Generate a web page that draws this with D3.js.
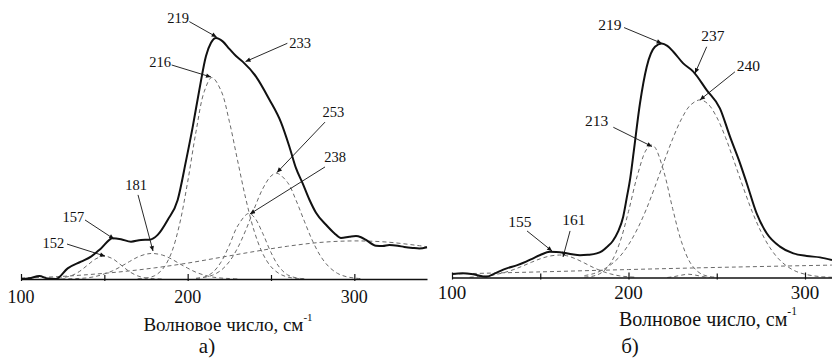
<!DOCTYPE html>
<html><head><meta charset="utf-8">
<script src="https://cdn.jsdelivr.net/npm/d3@7"></script>
<style>
body{margin:0;background:#fff}
svg{display:block}
</style>
</head><body>
<svg id="chart" width="832" height="358" font-family="'Liberation Serif', 'DejaVu Serif', 'Times New Roman', serif"></svg>
<script>
// ---------------- DATA ----------------
const majorTicks = [100, 200, 300];
const minorTicks = [150, 250];
const axisTitle = "Волновое число, см";
const axisTitleSup = "-1";
const panelLabels = ["а)", "б)"];

// Panel a) — measured spectrum [wavenumber, intensity]
const aMeasured = [[100,0],[105,0.3],[111,1.2],[116,0.2],[121,0],[128,4.4],[136,7.2],[142,9.3],[148,12.7],[155,16.9],[160,16.5],[166,15.5],[172,16.2],[177,16.3],[182,18.3],[188,24.5],[194,32.8],[199,49],[203,63],[207,78.5],[211,92.5],[214,98],[217,100],[221,98.6],[225,95.5],[229,92.5],[233,90.2],[241,84],[249,74.5],[256,65],[261,55],[265,46],[269,39.7],[273,33],[277,27.5],[283,22.5],[288,19],[292,17],[297,17.5],[301,17.8],[304,17.3],[307,16.2],[313,13.8],[317,13.7],[321,14.1],[326,13.8],[330,13.3],[335,12.9],[339,12.7],[343.6,13.2]];
// Panel a) — fitted components
const aBand152 = [[118,0],[122,0.2],[126,0.7],[130,1.3],[135,3.1],[140,5.8],[145,8.4],[150,9.5],[155,8.4],[160,5.8],[165,3.1],[170,1.3],[175,0.4],[180,0.1],[185,0]];
const aBand181 = [[120,0],[125,0.05],[130,0.1],[135,0.24],[140,0.5],[145,1.1],[150,2.1],[155,3.4],[160,5.2],[165,7.2],[170,9.1],[175,10.3],[179,10.6],[185,9.9],[190,8.4],[195,6.4],[200,4.5],[205,2.8],[210,1.6],[215,0.8],[220,0.4],[225,0.2],[230,0.05]];
const aBand216 = [[170,0.1],[175,0.4],[180,1.3],[185,4.1],[190,10.4],[195,22.3],[200,40.3],[205,61.1],[210,77.9],[214.5,83.6],[220,78.2],[225,65.4],[230,49],[235,32.9],[240,19.7],[245,10.6],[250,5.1],[255,2.2],[260,0.8],[265,0.3],[270,0.05]];
const aBand238 = [[205,0.2],[210,0.8],[215,2.7],[220,7],[225,14],[230,22],[236.5,27.2],[240,25.6],[245,19],[250,11],[255,4.9],[260,1.7],[265,0.5],[270,0.1]];
const aBand253 = [[205,0.3],[210,0.7],[215,1.6],[220,3.6],[225,7.2],[230,12.9],[235,20.5],[240,29.3],[245,37.4],[250,42.7],[253.5,43.9],[260,40],[265,32.7],[270,24],[275,15.7],[280,9.2],[285,4.9],[290,2.3],[295,1],[300,0.4],[305,0.1]];
const aBroad = [[100,0.4],[120,0.9],[140,1.8],[160,3],[180,4.6],[200,6.6],[220,9],[240,11.4],[260,13.6],[280,15.2],[300,15.8],[320,15.3],[343.6,13.4]];
// Panel a) annotations: text, label pos (w,v), arrow start (w,v), arrow tip (w,v)
const aNotes = [
  ["219",194.2,108.3,201,106.8,217.4,100.4],
  ["233",267.4,98.1,259.8,97.8,234.7,90.2],
  ["216",183.4,90.2,190.4,88.8,214,83.8],
  ["253",287.4,69.4,282.4,65.1,253.6,44.2],
  ["238",288.4,50.7,282.4,46.5,237.4,27],
  ["181",169,39,170.2,34.9,179.2,11.6],
  ["157",131.4,25.9,138.4,24.5,155.8,16.6],
  ["152",119.4,15.1,127.6,14.5,150.4,9.5]
];

// Panel б) — measured spectrum
const bMeasured = [[100,1.5],[106,1.8],[112,1.4],[119.5,0.3],[125,2],[131,3.9],[137,5.3],[142,6.8],[146,8.2],[150,9.6],[155.5,11],[159,10.9],[163,10.6],[168,9.9],[172.5,9.5],[177,9.7],[182,10.3],[185,11.3],[188,13.2],[191,15.5],[194,19.5],[197,26],[199,34],[201,42.5],[203,54],[206.5,74.4],[210.3,90],[215,98.6],[218.8,100],[222,99],[225.4,96.5],[231,91.5],[236.7,88],[244.3,80.1],[251.8,72.3],[257.5,60.2],[263.2,48.8],[267,40.3],[272.6,27.4],[278.3,18.9],[285.8,13.2],[293.4,10.3],[301,9.2],[308.5,8.6],[315.3,7.5]];
// Panel б) — fitted components
const bBand161 = [[110,0.1],[115,0.4],[120,0.7],[125,1.3],[130,2.2],[135,3.4],[140,4.9],[145,6.5],[150,8],[155,9.1],[161,9.6],[165,9.3],[170,8],[175,6.2],[180,4.3],[185,2.7],[190,1.5],[195,0.7],[200,0.3],[205,0.1]];
const bBand213 = [[175,0.2],[180,0.6],[185,2.2],[190,6.3],[195,14.8],[200,28.2],[205,43.5],[210,54.5],[213,56.6],[215,55.6],[220,45.3],[225,29.5],[230,15.3],[235,6.3],[240,2.1],[245,0.5],[250,0.1]];
const bBand240 = [[175,0.8],[180,1.6],[185,3.1],[190,5.5],[195,8.9],[200,14],[205,20.7],[210,29],[215,38.8],[220,49.2],[225,59.2],[230,67.7],[235,73.6],[240.5,75.9],[245,74.2],[250,68.5],[255,59.8],[260,49.3],[265,38.5],[270,28.3],[275,19.7],[280,12.9],[285,8],[290,4.7],[295,2.6],[300,1.4],[305,0.7],[310,0.3],[315.3,0.1]];
const bBandSmall = [[222,0],[226,0.4],[230,1],[234,1.4],[238,1],[242,0.4],[246,0]];
const bBroad = [[100,1.5],[150,2.4],[200,3.4],[250,4.3],[315.3,5.3]];
const bNotes = [
  ["219",189.5,107.9,197.5,106.8,218.8,100.1],
  ["237",247.8,103.3,244.3,98.6,237.7,87.3],
  ["240",267.9,90.5,260.3,87.9,240.5,75.9],
  ["213",182,66.9,191.4,64.2,213.3,56],
  ["155",138.5,23.8,142.5,19.9,156.7,11.3],
  ["161",169.1,24.6,166.9,19.9,162.9,8.8]
];

// ---------------- DRAW ----------------
const svg = d3.select("#chart");
svg.append("rect").attr("width",832).attr("height",358).attr("fill","#fff");

const defs = svg.append("defs");
defs.append("marker").attr("id","arr").attr("viewBox","0 0 10 10")
  .attr("refX",10).attr("refY",5).attr("markerWidth",7).attr("markerHeight",5)
  .attr("markerUnits","userSpaceOnUse").attr("orient","auto")
  .append("path").attr("d","M0,0.5 L10,5 L0,9.5 z").attr("fill","#111");

function panel(cfg){
  const x = d3.scaleLinear().domain(cfg.xDomain).range(cfg.xRange);
  const y = d3.scaleLinear().domain([0,100]).range(cfg.yRange);
  const g = svg.append("g");
  const line = d3.line().x(d=>x(d[0])).y(d=>y(d[1])).curve(d3.curveMonotoneX);
  const dline = d3.line().x(d=>x(d[0])).y(d=>y(d[1])).curve(d3.curveCatmullRom.alpha(0.5));

  cfg.bands.forEach(b=>{
    g.append("path").attr("d",dline(b)).attr("fill","none")
     .attr("stroke","#6a6a6a").attr("stroke-width",1).attr("stroke-dasharray","4,3");
  });
  g.append("path").attr("d",line(cfg.measured)).attr("fill","none")
   .attr("stroke","#111").attr("stroke-width",2).attr("stroke-linejoin","round");

  // axis
  const ax = g.append("g").attr("transform",`translate(0,${cfg.yRange[0]})`);
  ax.call(d3.axisBottom(x).tickValues(majorTicks).tickSizeInner(-5).tickSizeOuter(0).tickFormat(""));
  ax.select(".domain").attr("stroke","#111").attr("stroke-width",1.6);
  ax.selectAll(".tick line").attr("stroke","#111").attr("stroke-width",1.2).attr("y2",-5).attr("y1",2);
  const mx = g.append("g").attr("transform",`translate(0,${cfg.yRange[0]})`);
  mx.call(d3.axisBottom(x).tickValues(minorTicks).tickSizeInner(-3).tickSizeOuter(0).tickFormat(""));
  mx.select(".domain").remove();
  mx.selectAll(".tick line").attr("stroke","#111").attr("stroke-width",1.2).attr("y2",-4).attr("y1",2);

  const ff = "'Liberation Serif', 'DejaVu Serif', serif";
  g.selectAll("text.tl").data(majorTicks).enter().append("text").attr("class","tl")
   .attr("x",d=>x(d)).attr("y",cfg.yRange[0]+cfg.tickDy).attr("text-anchor","middle")
   .attr("font-family",ff).attr("fill","#111")
   .attr("font-size",cfg.tickFs).text(d=>d);

  const t = g.append("text").attr("x",cfg.titleX).attr("y",cfg.titleY)
   .attr("font-family",ff).attr("fill","#111")
   .attr("text-anchor","middle").attr("font-size",cfg.titleFs);
  t.append("tspan").text(axisTitle);
  t.append("tspan").attr("dy",-cfg.titleFs*0.55).attr("font-size",cfg.titleFs*0.58).text(axisTitleSup);

  g.append("text").attr("x",cfg.labelX).attr("y",353).attr("text-anchor","middle")
   .attr("font-family",ff).attr("fill","#111")
   .attr("font-size",21).text(cfg.label);

  // annotations
  cfg.notes.forEach(n=>{
    g.append("line").attr("x1",x(n[3])).attr("y1",y(n[4])).attr("x2",x(n[5])).attr("y2",y(n[6]))
     .attr("stroke","#111").attr("stroke-width",0.9).attr("marker-end","url(#arr)");
    g.append("text").attr("x",x(n[1])).attr("y",y(n[2])).attr("dy","0.35em")
     .attr("font-family",ff).attr("fill","#111")
     .attr("text-anchor","middle").attr("font-size",cfg.noteFs).text(n[0]);
  });
}

panel({xDomain:[100,343.6], xRange:[21,427], yRange:[279,38],
  measured:aMeasured, bands:[aBroad,aBand152,aBand181,aBand216,aBand238,aBand253],
  notes:aNotes, tickDy:24, tickFs:18, titleX:228, titleY:331, titleFs:19,
  label:panelLabels[0], labelX:207, noteFs:14.5});
panel({xDomain:[100,315.3], xRange:[452,832], yRange:[277.5,43.5],
  measured:bMeasured, bands:[bBroad,bBandSmall,bBand161,bBand213,bBand240],
  notes:bNotes, tickDy:21, tickFs:19, titleX:708, titleY:326, titleFs:20,
  label:panelLabels[1], labelX:630, noteFs:15.5});
</script>
</body></html>
